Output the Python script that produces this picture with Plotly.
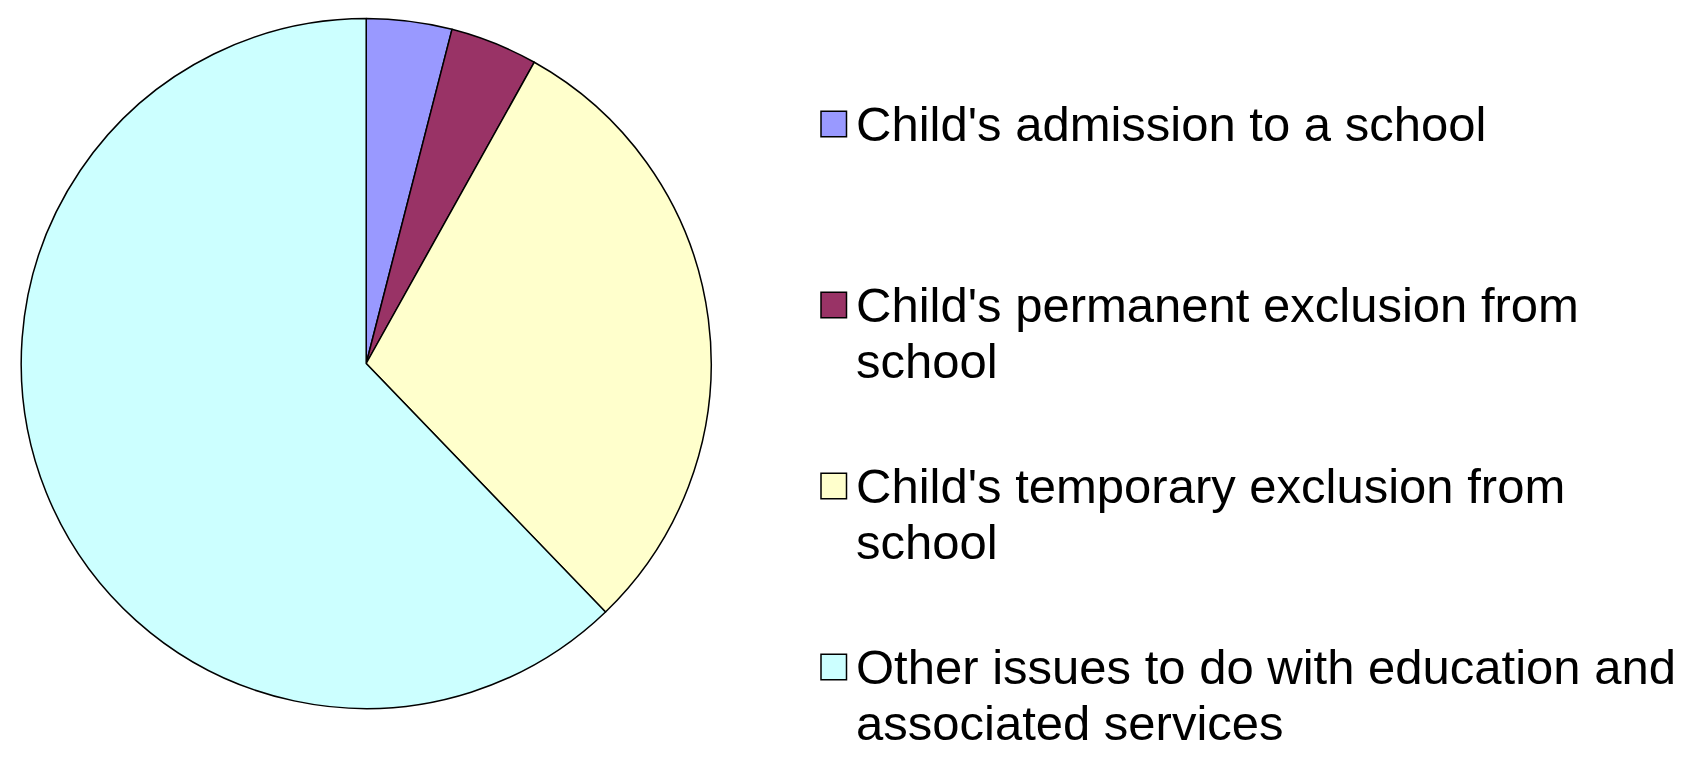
import plotly.graph_objects as go

categories = [
    "Child's admission to a school",
    "Child's permanent exclusion from<br>school",
    "Child's temporary exclusion from<br>school",
    "Other issues to do with education and<br>associated services",
]
values = [4.0, 4.1, 29.7, 62.2]
colors = ["#9999FF", "#993366", "#FFFFCC", "#CCFFFF"]

# page is offset by the default 8px body margin; work in figure coordinates
OFF = 8
W, H = 1684 - OFF, 760 - OFF

cx, cy0, r = 366.2 - OFF, 363.5 - OFF, 345

fig = go.Figure(
    go.Pie(
        labels=[c.replace("<br>", " ") for c in categories],
        values=values,
        sort=False,
        direction="clockwise",
        rotation=0,
        textinfo="none",
        hoverinfo="label+percent",
        marker=dict(colors=colors, line=dict(color="#000000", width=1.5)),
        domain=dict(x=[(cx - r) / W, (cx + r) / W],
                    y=[1 - (cy0 + r) / H, 1 - (cy0 - r) / H]),
        showlegend=False,
    )
)

# Custom legend (large square swatches like the original)
font = dict(family="Liberation Sans, Arial, sans-serif", size=49, color="#000000")
first_center = 124 - OFF
pitch = 181
line_h = 56
sq = 25.5
sq_x0 = 821 - OFF
text_x = 855 - OFF
shapes = []
annotations = []
for i, (cat, col) in enumerate(zip(categories, colors)):
    cy = first_center + i * pitch
    shapes.append(dict(
        type="rect", xref="paper", yref="paper",
        x0=sq_x0 / W, x1=(sq_x0 + sq) / W,
        y0=1 - (cy - sq / 2) / H, y1=1 - (cy + sq / 2) / H,
        fillcolor=col, line=dict(color="#000000", width=1.5),
    ))
    for j, line in enumerate(cat.split("<br>")):
        annotations.append(dict(
            text=line, xref="paper", yref="paper",
            x=text_x / W, y=1 - (cy + j * line_h) / H,
            xanchor="left", yanchor="middle", showarrow=False,
            font=font, borderpad=0,
        ))

fig.update_layout(
    width=W, height=H,
    margin=dict(l=0, r=0, t=0, b=0),
    paper_bgcolor="#FFFFFF",
    plot_bgcolor="#FFFFFF",
    shapes=shapes,
    annotations=annotations,
)

fig.write_html("out.html")
